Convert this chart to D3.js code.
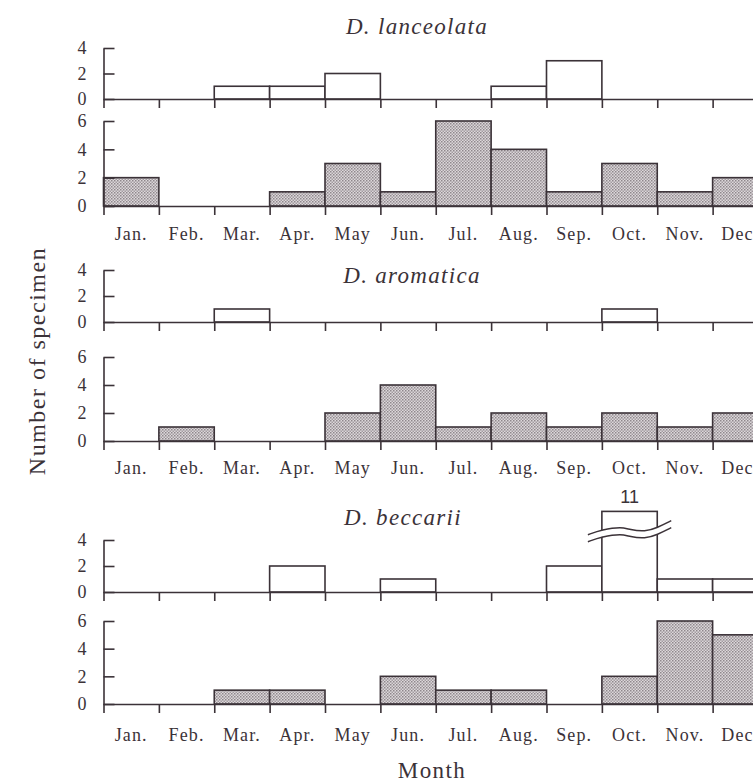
<!DOCTYPE html>
<html>
<head>
<meta charset="utf-8">
<script src="https://cdn.jsdelivr.net/npm/d3@7"></script>
<style>
  body { margin: 0; background: #fff; }
  svg text { fill: #3b3238; font-family: "Liberation Serif", "DejaVu Serif", serif; }
</style>
</head>
<body>
<svg id="chart" width="753" height="782"></svg>
<script>
/*=====================================================================
 data
======================================================================*/
var months = ["Jan.", "Feb.", "Mar.", "Apr.", "May", "Jun.", "Jul.", "Aug.", "Sep.", "Oct.", "Nov.", "Dec."];
var species = ["D. lanceolata", "D. aromatica", "D. beccarii"];

// open (white) bars, upper panel of each species
var lanceolataOpen = [0, 0, 1, 1, 2, 0, 0, 1, 3, 0, 0, 0];
var aromaticaOpen  = [0, 0, 1, 0, 0, 0, 0, 0, 0, 1, 0, 0];
var beccariiOpen   = [0, 0, 0, 2, 0, 1, 0, 0, 2, 11, 1, 1];

// shaded bars, lower panel of each species
var lanceolataShaded = [2, 0, 0, 1, 3, 1, 6, 4, 1, 3, 1, 2];
var aromaticaShaded  = [0, 1, 0, 0, 2, 4, 1, 2, 1, 2, 1, 2];
var beccariiShaded   = [0, 0, 1, 1, 0, 2, 1, 1, 0, 2, 6, 5];

var openTicks = [0, 2, 4];
var shadedTicks = [0, 2, 4, 6];

/*=====================================================================
 layout
======================================================================*/
var ink = "#3b3238";
var axisX = 103.5;
var x = d3.scaleLinear().domain([0, 12]).range([axisX, 768]);

// per species: title (x, baseline), upper panel (zero, top), lower panel (zero, top), month label baseline
var groups = [
    { name: species[0], open: lanceolataOpen, shaded: lanceolataShaded, tx: 417, title: 34,  top: [99, 48],   bottom: [206, 121], label: 240 },
    { name: species[1], open: aromaticaOpen,  shaded: aromaticaShaded,  tx: 412, title: 283, top: [322, 270], bottom: [441, 357], label: 474 },
    { name: species[2], open: beccariiOpen,   shaded: beccariiShaded,   tx: 403, title: 525, top: [592, 540], bottom: [704, 621], label: 741 }
];

var svg = d3.select("#chart");

// stipple pattern for the shaded bars
var pat = svg.append("defs").append("pattern")
    .attr("id", "stipple")
    .attr("width", 3).attr("height", 3)
    .attr("patternUnits", "userSpaceOnUse");
pat.append("rect").attr("width", 3).attr("height", 3).attr("fill", "#dcd8da");
pat.append("rect").attr("width", 1.5).attr("height", 1.5).attr("fill", "#8f878c");
pat.append("rect").attr("x", 1.5).attr("y", 1.5).attr("width", 1.5).attr("height", 1.5).attr("fill", "#a39ba0");

/*=====================================================================
 drawPanel()
======================================================================*/
function drawPanel(values, yRange, domainMax, ticks, fill, withBreak) {
    var y = d3.scaleLinear().domain([0, domainMax]).range(yRange);
    var capValue = 6.2;   // a bar above the axis is drawn up to here
    var breakValue = 4.6; // where the wavy break sits

    var g = svg.append("g");

    var bars = values.map(function (v, i) { return { v: v, i: i }; })
        .filter(function (d) { return d.v > 0; });

    var shown = function (d) { return d.v > domainMax ? capValue : d.v; };

    g.selectAll("rect.bar")
        .data(bars)
        .enter().append("rect")
        .attr("class", "bar")
        .attr("x", function (d) { return x(d.i); })
        .attr("width", function (d) { return x(d.i + 1) - x(d.i); })
        .attr("y", function (d) { return y(shown(d)); })
        .attr("height", function (d) { return y(0) - y(shown(d)); })
        .attr("fill", fill)
        .attr("stroke", ink)
        .attr("stroke-width", 1.6);

    // month boundary ticks + baseline
    var xAxis = d3.axisBottom(x)
        .tickValues(d3.range(13))
        .tickFormat("")
        .tickSizeInner(9)
        .tickSizeOuter(0);
    g.append("g")
        .attr("transform", "translate(0," + y(0) + ")")
        .call(xAxis)
        .call(function (s) {
            s.selectAll("path, line").attr("stroke", ink).attr("stroke-width", 1.6);
        });

    // value axis, ticks pointing inwards, labels on the left
    var yAxis = d3.axisLeft(y)
        .tickValues(ticks)
        .tickFormat(d3.format("d"))
        .tickSizeInner(-11)
        .tickSizeOuter(0)
        .tickPadding(17);
    g.append("g")
        .attr("transform", "translate(" + axisX + ",0)")
        .call(yAxis)
        .call(function (s) {
            s.selectAll("path, line").attr("stroke", ink).attr("stroke-width", 1.6);
            s.selectAll("text")
                .attr("fill", ink)
                .style("font-family", "'Liberation Serif', serif")
                .style("font-size", "18px");
        });

    // broken bar: value written above, wavy break across it
    if (withBreak) {
        bars.filter(function (d) { return d.v > domainMax; }).forEach(function (d) {
            var x0 = x(d.i), x1 = x(d.i + 1);
            var yb = y(breakValue);
            var wave = function (off) {
                return [
                    [x0 - 14, yb + 6 + off], [x0, yb + 1 + off], [x0 + 20, yb - 2 + off],
                    [(x0 + x1) / 2, yb + 1 + off], [x1 - 12, yb + 3 + off], [x1, yb - 1 + off], [x1 + 14, yb - 8 + off]
                ];
            };
            var line = d3.line().curve(d3.curveBasis);
            var upper = wave(-3.5), lower = wave(3.5);
            g.append("path")
                .attr("d", line(upper) + "L" + lower.slice().reverse().map(function (p) { return p.join(","); }).join("L") + "Z")
                .attr("fill", "#fff").attr("stroke", "none");
            [upper, lower].forEach(function (w) {
                g.append("path").attr("d", line(w))
                    .attr("fill", "none").attr("stroke", ink).attr("stroke-width", 1.5);
            });
            g.append("text")
                .attr("x", (x0 + x1) / 2)
                .attr("y", y(capValue) - 8)
                .attr("text-anchor", "middle")
                .style("font-family", "'Liberation Sans', Arial, sans-serif")
                .style("font-size", "18px")
                .text(d.v);
        });
    }
}

/*=====================================================================
 draw each species
======================================================================*/
groups.forEach(function (grp) {
    svg.append("text")
        .attr("x", grp.tx)
        .attr("y", grp.title)
        .attr("text-anchor", "middle")
        .style("font-style", "italic")
        .style("font-size", "23px")
        .style("letter-spacing", "1.3px")
        .text(grp.name);

    drawPanel(grp.open, grp.top, 4, openTicks, "#fff", true);
    drawPanel(grp.shaded, grp.bottom, 6, shadedTicks, "url(#stipple)", false);

    svg.append("g").selectAll("text")
        .data(months)
        .enter().append("text")
        .attr("x", function (d, i) { return (x(i) + x(i + 1)) / 2; })
        .attr("y", grp.label)
        .attr("text-anchor", "middle")
        .style("font-size", "18px")
        .style("letter-spacing", "1.1px")
        .text(function (d) { return d; });
});

// axis titles
svg.append("text")
    .attr("transform", "translate(45,361) rotate(-90)")
    .attr("text-anchor", "middle")
    .style("font-size", "24px")
    .style("letter-spacing", "1.5px")
    .text("Number of specimen");

svg.append("text")
    .attr("x", 432)
    .attr("y", 778)
    .attr("text-anchor", "middle")
    .style("font-size", "23px")
    .style("letter-spacing", "1.4px")
    .text("Month");
</script>
</body>
</html>
